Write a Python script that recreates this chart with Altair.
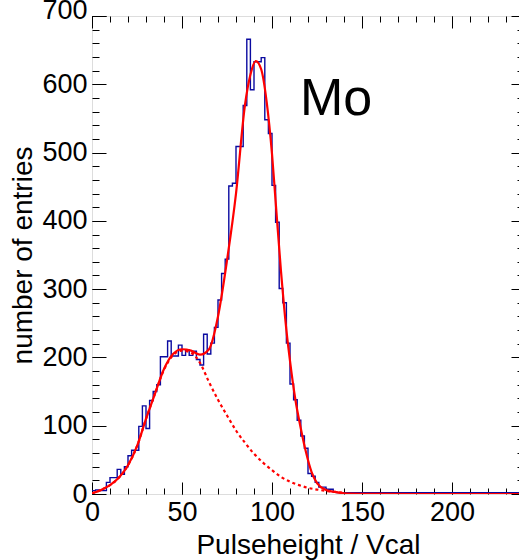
import altair as alt
import pandas as pd

# ---------------- data ----------------
bin_width = 2
hist_counts = [
    5, 6, 5, 5, 17, 24, 24, 36, 29, 40,
    56, 64, 64, 99, 129, 96, 137, 150, 160, 201,
    201, 224, 202, 202, 218, 203, 211, 203, 209, 197,
    189, 234, 205, 221, 244, 284, 323, 344, 451, 455,
    509, 509, 569, 666, 592, 633, 633, 639, 548, 528,
    452, 398, 301, 280, 221, 161, 138, 108, 85, 67,
    30, 26, 17, 10, 10, 7, 7, 3, 2, 2,
    2, 2, 2, 2, 2, 2, 2, 2, 2, 2,
    2, 2, 2, 2, 2, 2, 2, 2, 2, 2,
    2, 2, 2, 2, 2, 2, 2, 2, 2, 2,
    2, 2, 2, 2, 2, 2, 2, 2, 2, 2,
    2, 2, 2, 2, 2, 2, 2, 2, 2, 2,
]

fit_x = [0, 5, 10, 15, 20, 25, 30, 35, 40, 45, 50, 55, 60, 65, 70, 75, 80, 85, 88,
         91, 94, 97, 100, 102, 105, 108, 110, 113, 116, 119, 122, 125, 130, 135, 140,
         150, 160, 180, 200, 220, 240]
fit_y = [1, 6, 13, 24, 42, 70, 110, 147, 183, 205, 212, 210, 204, 212, 260, 342, 440, 570, 614,
         634, 622, 575, 498, 429, 326, 240, 195, 138, 96, 60, 32, 16, 6, 3, 1,
         0.3, 0.1, 0, 0, 0, 0]

low_x = [0, 5, 10, 15, 20, 25, 30, 35, 40, 45, 50, 55, 60, 65, 70, 75, 80, 85, 90, 95,
         100, 105, 110, 115, 120, 125, 130, 135, 140]
low_y = [1, 6, 13, 24, 42, 70, 110, 147, 182, 203, 210, 207, 192, 164, 138, 115, 93, 75, 59, 46,
         35, 25, 18, 13, 9, 6.5, 4.5, 3, 2]

x_major = [0, 50, 100, 150, 200]
x_minor = list(range(0, 241, 10))
y_major = [0, 100, 200, 300, 400, 500, 600, 700]
y_minor = list(range(0, 701, 20))
y_top_label = [700]

# ---------------- tables ----------------
edges = [i * bin_width for i in range(len(hist_counts))] + [len(hist_counts) * bin_width]
hist_df = pd.DataFrame({"x": edges, "n": hist_counts + [hist_counts[-1]]})
fit_df = pd.DataFrame({"x": fit_x, "f": fit_y})
low_df = pd.DataFrame({"x": low_x, "f": low_y})

FONT = "Liberation Sans"
BLUE = "#0a0aa0"
RED = "#ff0000"

xs = alt.Scale(domain=[0, 240], nice=False, zero=False)
ys = alt.Scale(domain=[0, 700], nice=False, zero=False)


def ax(orient, values, size, labels=False, title=None, **kw):
    d = dict(orient=orient, values=values, tickSize=size, offset=-size, domain=False,
             grid=False, labels=labels, tickColor="black", tickWidth=1,
             labelOverlap=False, labelFlush=False)
    if labels:
        d.update(labelFont=FONT, labelFontSize=27, labelColor="black", labelPadding=5)
    if title is not None:
        d.update(title=title, titleFont=FONT, titleFontSize=28, titleFontWeight="normal",
                 titleColor="black")
    else:
        d.update(title=None)
    d.update(kw)
    return alt.Axis(**d)


hist = alt.Chart(hist_df).mark_line(
    interpolate="step-after", color=BLUE, strokeWidth=1.4, clip=True
).encode(
    x=alt.X("x:Q", scale=xs, axis=ax("bottom", x_major, 12, labels=True,
                                      title="Pulseheight / Vcal", titlePadding=6)),
    y=alt.Y("n:Q", scale=ys, axis=ax("left", y_major, 14, labels=True,
                                      title="number of entries", titlePadding=4,
                                      labelExpr="datum.value == 700 ? '' : datum.label")),
)

fit = alt.Chart(fit_df).mark_line(
    interpolate="monotone", color=RED, strokeWidth=2.2, clip=True
).encode(
    x=alt.X("x:Q", scale=xs, axis=ax("bottom", x_minor, 6)),
    y=alt.Y("f:Q", scale=ys, axis=ax("left", y_minor, 7)),
)

low = alt.Chart(low_df).mark_line(
    interpolate="monotone", color=RED, strokeWidth=2.2, strokeDash=[3, 3], clip=True
).encode(
    x=alt.X("x:Q", scale=xs, axis=ax("top", x_major, 12)),
    y=alt.Y("f:Q", scale=ys, axis=ax("right", y_major, 13)),
)

ghost = alt.Chart(hist_df).mark_line(opacity=0).encode(
    x=alt.X("x:Q", scale=xs, axis=ax("top", x_minor, 6)),
    y=alt.Y("n:Q", scale=ys, axis=ax("right", y_minor, 7)),
)

# top label of the y axis sits a little higher, as in the reference
ghost2 = alt.Chart(hist_df).mark_line(opacity=0).encode(
    x=alt.X("x:Q", scale=xs, axis=None),
    y=alt.Y("n:Q", scale=ys, axis=ax("left", y_top_label, 14, labels=True, labelOffset=-6)),
)

label = alt.Chart(pd.DataFrame({"t": ["Mo"]})).mark_text(
    font=FONT, fontSize=52, align="left", baseline="alphabetic", color="black"
).encode(x=alt.value(208), y=alt.value(99), text="t:N")

chart = alt.layer(hist, fit, low, ghost, ghost2, label).resolve_axis(
    x="independent", y="independent"
).properties(
    width=432, height=478,
    autosize=alt.AutoSizeParams(type="none"),
    padding={"left": 92, "top": 16, "right": -5, "bottom": 66},
).configure_view(stroke="black", strokeWidth=2).configure(background="white")

chart.save("out.html", embed_options={"renderer": "svg", "actions": False})
